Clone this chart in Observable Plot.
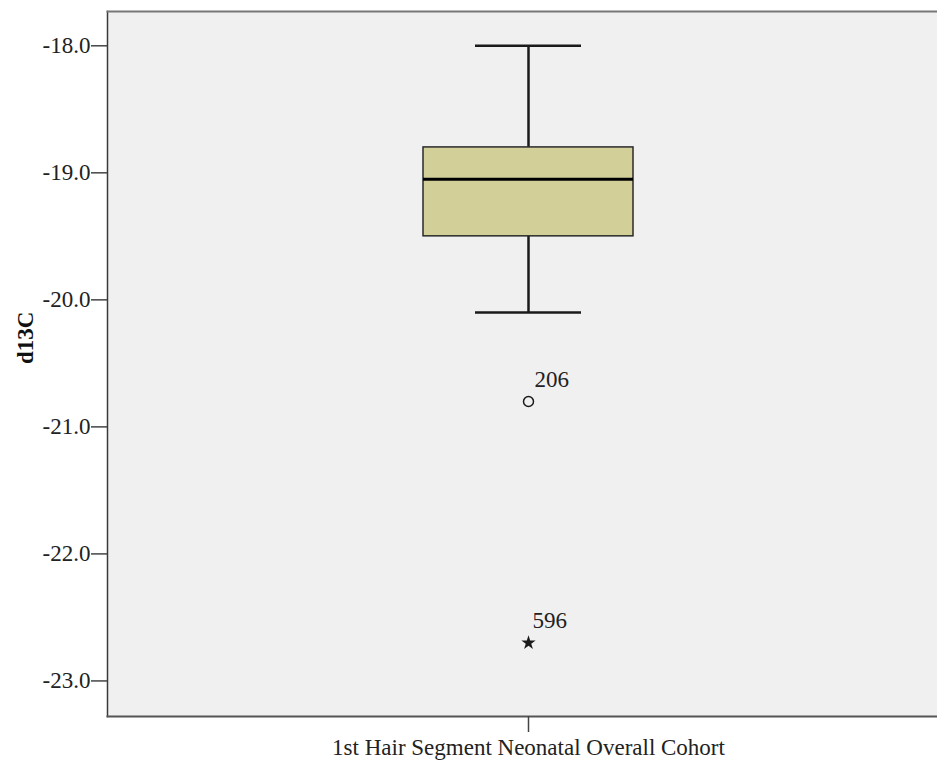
<!DOCTYPE html>
<html>
<head>
<meta charset="utf-8">
<script src="https://cdn.jsdelivr.net/npm/d3@7"></script>
<script src="https://cdn.jsdelivr.net/npm/@observablehq/plot@0.6"></script>
<style>
  html, body { margin: 0; padding: 0; background: #ffffff; }
  #chart { width: 937px; height: 760px; }
</style>
</head>
<body>
<div id="chart"></div>
<script>
// ---- data ----
const categories = ["1st Hair Segment Neonatal Overall Cohort"];
const whiskerLow = [-20.1];
const q1Values = [-19.5];
const medianValues = [-19.05];
const q3Values = [-18.8];
const whiskerHigh = [-18.0];
const outlierValues = [-20.8];
const outlierLabels = ["206"];
const extremeValues = [-22.7];
const extremeLabels = ["596"];
const yTicks = [-18, -19, -20, -21, -22, -23];
const yLabel = "d13C";

const stats = categories.map((c, i) => ({
  cat: c, lo: whiskerLow[i], q1: q1Values[i], med: medianValues[i], q3: q3Values[i], hi: whiskerHigh[i]
}));
const outliers = outlierValues.map((v, i) => ({cat: categories[0], v, label: outlierLabels[i]}));
const extremes = extremeValues.map((v, i) => ({cat: categories[0], v, label: extremeLabels[i]}));

const ink = "#1a1a1a";
const boxInset = 316;
const capInset = 368;

const chart = Plot.plot({
  width: 937,
  height: 760,
  marginLeft: 107,
  marginRight: 0,
  marginTop: 11,
  marginBottom: 44,
  style: {fontFamily: "'Liberation Serif', 'Times New Roman', serif", fontSize: "23px", color: "#222", background: "#ffffff"},
  x: {type: "band", domain: categories, range: [107, 949], padding: 0},
  y: {domain: [-23.28, -17.73]},
  marks: [
    Plot.frame({fill: "#f0f0f0", stroke: "none"}),
    Plot.ruleX(stats, {x: "cat", y1: "lo", y2: "q1", stroke: ink, strokeWidth: 2.5}),
    Plot.ruleX(stats, {x: "cat", y1: "q3", y2: "hi", stroke: ink, strokeWidth: 2.5}),
    Plot.tickY(stats, {x: "cat", y: "lo", stroke: ink, strokeWidth: 2.5, insetLeft: capInset, insetRight: capInset}),
    Plot.tickY(stats, {x: "cat", y: "hi", stroke: ink, strokeWidth: 2.5, insetLeft: capInset, insetRight: capInset}),
    Plot.barY(stats, {x: "cat", y1: "q1", y2: "q3", fill: "#d3cf98", stroke: "#2a2a2a", strokeWidth: 1.5, insetLeft: boxInset, insetRight: boxInset}),
    Plot.tickY(stats, {x: "cat", y: "med", stroke: "#000", strokeWidth: 3, insetLeft: boxInset, insetRight: boxInset}),
    Plot.dot(outliers, {x: "cat", y: "v", r: 5, stroke: ink, strokeWidth: 1.5, fill: "none"}),
    Plot.text(outliers, {x: "cat", y: "v", text: "label", dx: 6, dy: -22, textAnchor: "start", fontSize: 23, fill: "#222"}),
    Plot.dot(extremes, {x: "cat", y: "v", r: 4.5, symbol: "star", fill: ink, stroke: "none"}),
    Plot.text(extremes, {x: "cat", y: "v", text: "label", dx: 4, dy: -22, textAnchor: "start", fontSize: 23, fill: "#222"}),
    Plot.frame({anchor: "left", stroke: "#3a3a3a", strokeWidth: 1.5}),
    Plot.frame({anchor: "top", stroke: "#777", strokeWidth: 2}),
    Plot.frame({anchor: "bottom", stroke: "#555", strokeWidth: 2}),
    Plot.axisY({ticks: yTicks, tickFormat: d => d.toFixed(1), tickSize: 16, tickPadding: 1, label: null, stroke: "#444", strokeWidth: 1.5}),
    Plot.axisX({tickSize: 16, tickPadding: 6, label: null, stroke: "#444", strokeWidth: 1.5}),
    Plot.text([yLabel], {frameAnchor: "left", dx: -82, rotate: -90, text: d => d, fontWeight: "bold", fontSize: 23, fill: "#111"})
  ]
});
document.getElementById("chart").appendChild(chart);
</script>
</body>
</html>
